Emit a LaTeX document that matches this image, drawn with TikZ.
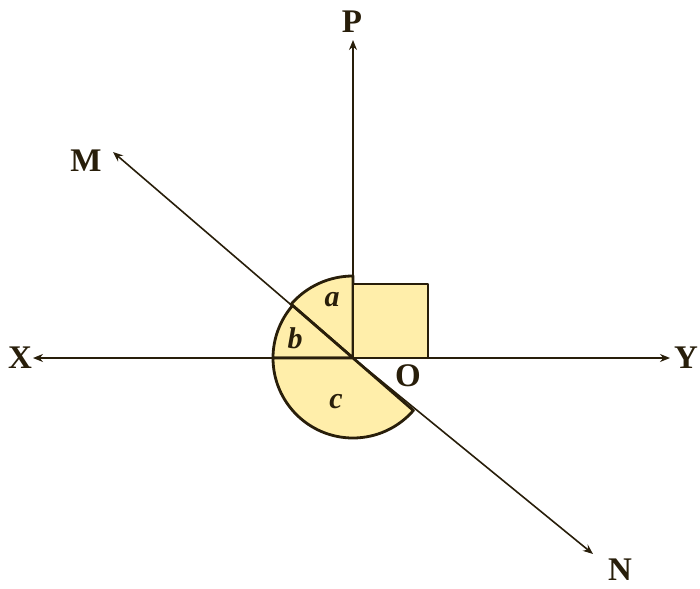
\documentclass[tikz,border=0pt]{standalone}
\usepackage{fontspec}
\setmainfont{Liberation Serif}
\usetikzlibrary{arrows.meta}
\definecolor{ink}{RGB}{40,30,10}
\definecolor{pale}{RGB}{255,238,170}
\begin{document}
\begin{tikzpicture}[x=1pt,y=-1pt,
  axis/.style={draw=ink,line width=1.6pt,-{Stealth[length=10pt,width=8pt,open]}},
  sector/.style={draw=ink,fill=pale,line width=2.8pt,line join=round},
  lab/.style={text=ink,font=\fontsize{33}{33}\selectfont\bfseries,inner sep=0pt},
  slab/.style={text=ink,font=\fontsize{30}{30}\selectfont\bfseries\itshape,inner sep=0pt}]
\useasboundingbox (0,0) rectangle (700,588);
\coordinate (O) at (353,358);
% sectors (screen angle s corresponds to tikz angle -s here)
\filldraw[sector] (O) -- ++(-90:82) arc[start angle=-90,end angle=-139,radius=82] -- cycle;
\filldraw[sector] (O) -- ++(-139:80) arc[start angle=-139,end angle=-180,radius=80] -- cycle;
\filldraw[sector] (O) -- ++(180:80) arc[start angle=180,end angle=41,radius=80] -- cycle;
% square
\filldraw[sector] (353,284) rectangle (428,358);
% axes
\coordinate (Xe) at (33,358);
\coordinate (Ye) at (670,358);
\coordinate (Pe) at (353,40);
\coordinate (Me) at (113,152);
\coordinate (Ne) at (593,554);
\draw[axis] (O) -- (Xe);
\draw[axis] (O) -- (Ye);
\draw[axis] (O) -- (Pe);
\draw[axis] (O) -- (Me);
\draw[axis] (O) -- (Ne);
% labels
\node[lab] (X) at (20,358) {X};
\node[lab] (Y) at (686,358) {Y};
\node[lab] (P) at (352,22) {P};
\node[lab] (M) at (86,161) {M};
\node[lab] (N) at (620,570) {N};
\node[lab] (Ol) at (408,376) {O};
\node[slab] (a) at (332,300) {a};
\node[slab] (b) at (295,338) {b};
\node[slab] (c) at (336,402) {c};
\end{tikzpicture}
\end{document}
